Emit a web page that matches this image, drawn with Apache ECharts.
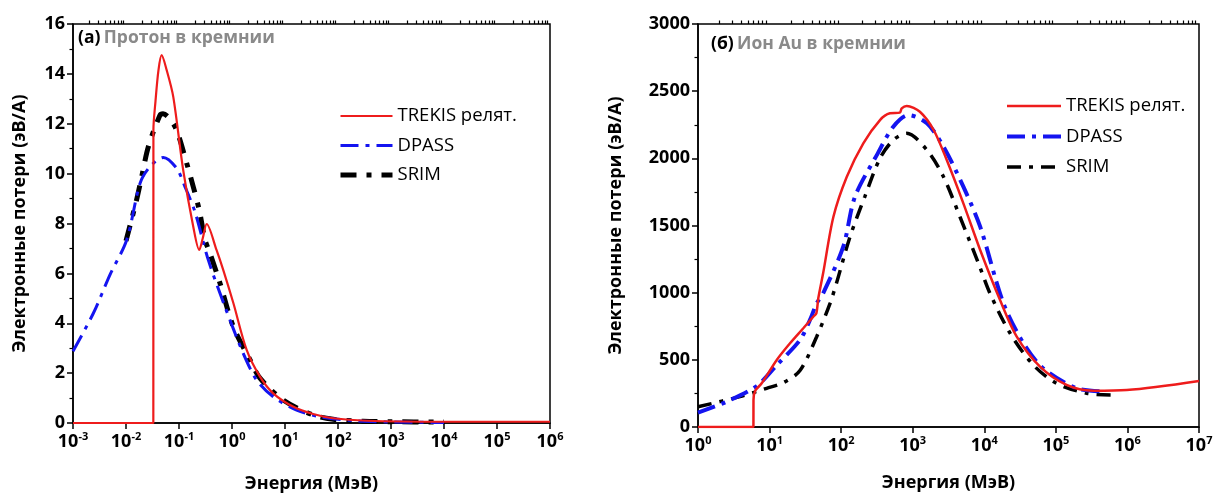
<!DOCTYPE html>
<html>
<head>
<meta charset="utf-8">
<script src="https://cdn.jsdelivr.net/npm/echarts@6/dist/echarts.min.js"></script>
<style>
  html, body { margin: 0; padding: 0; background: #fff; }
  #chart { width: 1214px; height: 495px; }
</style>
</head>
<body>
<div id="chart"></div>
<script>
// (а) протон в кремнии
const protonTrekisE = [0.001, 0.0328, 0.0329, 0.036, 0.041, 0.047, 0.0586, 0.078, 0.12, 0.186, 0.241, 0.28, 0.333, 0.51, 0.685, 1.06, 1.89, 3.37, 6.0, 14.4, 34, 81, 345, 1e4, 1e6]
const protonTrekis = [0, 0, 11.75, 12.9, 14.15, 14.75, 14.15, 13.08, 10.14, 7.87, 6.94, 7.4, 7.98, 6.94, 6.13, 4.81, 2.93, 1.86, 1.19, 0.65, 0.36, 0.19, 0.09, 0.05, 0.05]

const protonDpassE = [0.001, 0.00242, 0.005, 0.0103, 0.0184, 0.0284, 0.0506, 0.0905, 0.13, 0.2, 0.357, 0.738, 1.63, 2.92, 6.0, 16.6, 45.7, 200, 1000, 1e4]
const protonDpass = [2.88, 4.4, 5.95, 7.34, 9.61, 10.28, 10.65, 10.21, 9.47, 8.47, 6.54, 4.66, 2.79, 1.72, 1.05, 0.52, 0.25, 0.09, 0.04, 0.02]

const protonSrimE = [0.01, 0.0158, 0.0198, 0.0264, 0.0439, 0.05, 0.084, 0.14, 0.186, 0.241, 0.31, 0.385, 0.594, 1.06, 2.19, 3.37, 9.3, 34, 81, 300, 1e3, 1e4]
const protonSrim = [7.3, 8.94, 9.88, 11.08, 12.35, 12.4, 11.88, 10.41, 9.47, 8.54, 7.34, 6.8, 5.6, 3.86, 2.53, 1.8, 0.92, 0.32, 0.15, 0.07, 0.05, 0.04]

// (б) ион Au в кремнии
const auTrekisE = [1, 5.95, 5.96, 6.3, 7.76, 12.6, 19.3, 29.6, 40.8, 45, 48, 56, 78, 120, 204, 349, 480, 660, 702, 824, 1260, 1960, 2990, 5100, 8760, 16600, 28400, 60000, 141000, 334000, 978000, 1e7]
const auTrekis = [0, 0, 201, 270, 325, 499, 623, 735, 821, 846, 960, 1144, 1565, 1863, 2112, 2285, 2335, 2340, 2372, 2390, 2347, 2211, 1987, 1665, 1318, 945, 672, 449, 313, 270, 275, 342]

const auDpassE = [1, 2.5, 6.6, 12.6, 26.6, 36.7, 45.5, 56, 107, 156, 325, 535, 870, 1580, 2690, 5100, 8760, 18500, 35300, 66500, 196000, 500000]
const auDpass = [107, 188, 305, 461, 648, 797, 921, 995, 1342, 1714, 2037, 2235, 2322, 2261, 2087, 1789, 1491, 921, 623, 437, 288, 265]

const auSrimE = [1, 3.86, 9.1, 15.6, 26.6, 45.5, 70, 86, 133, 214, 349, 535, 824, 1580, 2690, 4570, 8300, 12000, 23000, 48600, 102000, 270000, 632000]
const auSrim = [151, 226, 288, 330, 420, 672, 921, 1070, 1416, 1714, 2000, 2136, 2186, 2062, 1863, 1565, 1218, 995, 697, 461, 325, 251, 238]

const SERIES_NAMES = ['TREKIS релят.', 'DPASS', 'SRIM']
const FONT = '"Open Sans", "Noto Sans", sans-serif'

const zip = (xs, ys) => xs.map((x, i) => [x, ys[i]])

// декады и промежуточные деления для логарифмической оси
function decades(p0, p1) {
  const out = []
  for (let p = p0; p <= p1; p++) out.push(Math.pow(10, p))
  return out
}
function minorLog(p0, p1) {
  const out = []
  for (let p = p0; p < p1; p++) {
    for (let k = 2; k <= 9; k++) out.push(k * Math.pow(10, p))
  }
  return out
}

function xAxes(gridIndex, p0, p1, nameGap) {
  const min = Math.pow(10, p0), max = Math.pow(10, p1)
  return [
    {
      type: 'log', gridIndex, min, max, logBase: 10,
      name: 'Энергия (МэВ)', nameLocation: 'middle', nameGap,
      nameTextStyle: { fontFamily: FONT, fontSize: 18, fontWeight: 'bold', color: '#000' },
      axisLine: { lineStyle: { color: '#000', width: 1.5 } },
      axisTick: { show: true, length: 6, lineStyle: { color: '#000', width: 1.5 }, customValues: decades(p0, p1) },
      axisLabel: {
        customValues: decades(p0, p1),
        margin: 8,
        fontFamily: FONT, fontSize: 18, fontWeight: 'bold', color: '#000', lineHeight: 21,
        formatter: (v) => '10{s|' + Math.round(Math.log10(v)) + '}',
        rich: { s: { fontFamily: FONT, fontSize: 11, fontWeight: 'bold', color: '#000', verticalAlign: 'top', lineHeight: 12 } }
      },
      splitLine: { show: false }
    },
    {
      type: 'log', gridIndex, min, max, logBase: 10, offset: 0,
      axisLine: { show: false },
      axisTick: { show: true, length: 3.5, lineStyle: { color: '#000', width: 1.2 }, customValues: minorLog(p0, p1) },
      axisLabel: { show: false },
      splitLine: { show: false }
    }
  ]
}

function yAxis(gridIndex, max, interval, nameGap) {
  return {
    type: 'value', gridIndex, min: 0, max, interval,
    name: 'Электронные потери (эВ/А)', nameLocation: 'middle', nameGap,
    nameTextStyle: { fontFamily: FONT, fontSize: 18, fontWeight: 'bold', color: '#000' },
    axisLine: { show: true, lineStyle: { color: '#000', width: 1.5 } },
    axisTick: { show: true, length: 6, lineStyle: { color: '#000', width: 1.5 } },
    minorTick: { show: true, splitNumber: 2, length: 3.5, lineStyle: { color: '#000', width: 1.2 } },
    axisLabel: { margin: 8, fontFamily: FONT, fontSize: 18, fontWeight: 'bold', color: '#000', formatter: (v) => String(v) },
    splitLine: { show: false },
    minorSplitLine: { show: false }
  }
}

const RED = '#ee1c1c', BLUE = '#1414f0', BLACK = '#000'
const LEGEND_TEXT = { fontFamily: FONT, fontSize: 18.5, color: '#000', lineHeight: 20 }

// стили линий: [цвет, толщина, штрих] для панелей (а) и (б)
const STYLE_A = [[RED, 2.2, 'solid'], [BLUE, 3, [18, 7, 4, 7]], [BLACK, 5, [16, 10, 5, 10]]]
const STYLE_B = [[RED, 2.5, 'solid'], [BLUE, 4, [18, 7, 4, 7]], [BLACK, 3.5, [14, 8, 4, 8]]]

function line(name, data, xAxisIndex, yAxisIndex, st, z) {
  const [color, width, dash] = st
  return {
    name, type: 'line', data, xAxisIndex, yAxisIndex,
    symbol: 'none', smooth: 0.3, z,
    lineStyle: { color, width, type: dash },
    itemStyle: { color }
  }
}

function legendData(styles) {
  return SERIES_NAMES.map((name, i) => ({
    name,
    itemStyle: { opacity: 0 },
    lineStyle: { color: styles[i][0], width: styles[i][1], type: styles[i][2] }
  }))
}

const chart = echarts.init(document.getElementById('chart'), null, { renderer: 'canvas' })

chart.setOption({
  backgroundColor: '#fff',
  animation: false,
  grid: [
    { left: 73, right: 664, top: 24, bottom: 72, show: true, borderColor: '#000', borderWidth: 1.5, containLabel: false, outerBoundsMode: 'none' },
    { left: 698, right: 15, top: 24, bottom: 68, show: true, borderColor: '#000', borderWidth: 1.5, containLabel: false, outerBoundsMode: 'none' }
  ],
  xAxis: [...xAxes(0, -3, 6, 52), ...xAxes(1, 0, 7, 47)],
  yAxis: [yAxis(0, 16, 2, 44), yAxis(1, 3000, 500, 73)],
  legend: [
    {
      orient: 'vertical', left: 333, top: 101, itemWidth: 52, itemHeight: 14, itemGap: 9.5,
      itemStyle: { opacity: 0 },
      textStyle: LEGEND_TEXT,
      data: legendData(STYLE_A)
    },
    {
      orient: 'vertical', left: 1000, top: 91, itemWidth: 54, itemHeight: 14, itemGap: 10.5,
      itemStyle: { opacity: 0 },
      textStyle: LEGEND_TEXT,
      data: legendData(STYLE_B)
    }
  ],
  graphic: [
    {
      type: 'text', left: 78, top: 29,
      style: {
        text: '{a|(a)} {b|Протон в кремнии}',
        rich: {
          a: { fontFamily: FONT, fontSize: 17.5, fontWeight: 'bold', fill: '#000' },
          b: { fontFamily: FONT, fontSize: 17.5, fontWeight: 'bold', fill: '#8a8a8a' }
        }
      }
    },
    {
      type: 'text', left: 711, top: 35,
      style: {
        text: '{a|(б)} {b|Ион Au в кремнии}',
        rich: {
          a: { fontFamily: FONT, fontSize: 17.5, fontWeight: 'bold', fill: '#000' },
          b: { fontFamily: FONT, fontSize: 17.5, fontWeight: 'bold', fill: '#8a8a8a' }
        }
      }
    }
  ],
  series: [
    line(SERIES_NAMES[2], zip(protonSrimE, protonSrim), 0, 0, STYLE_A[2], 2),
    line(SERIES_NAMES[1], zip(protonDpassE, protonDpass), 0, 0, STYLE_A[1], 3),
    line(SERIES_NAMES[0], zip(protonTrekisE, protonTrekis), 0, 0, STYLE_A[0], 4),
    line(SERIES_NAMES[2], zip(auSrimE, auSrim), 2, 1, STYLE_B[2], 2),
    line(SERIES_NAMES[1], zip(auDpassE, auDpass), 2, 1, STYLE_B[1], 3),
    line(SERIES_NAMES[0], zip(auTrekisE, auTrekis), 2, 1, STYLE_B[0], 4)
  ]
})
</script>
</body>
</html>
